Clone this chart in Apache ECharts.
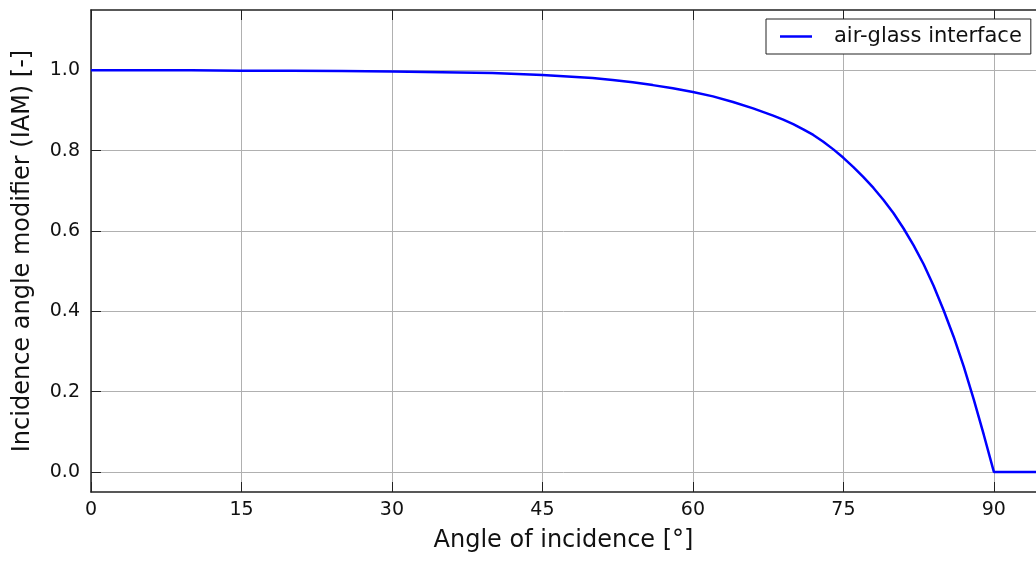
<!DOCTYPE html>
<html>
<head>
<meta charset="utf-8">
<script src="https://cdn.jsdelivr.net/npm/echarts@6/dist/echarts.min.js"></script>
<style>
html,body{margin:0;padding:0;background:#fff;}
#chart{width:1036px;height:561px;}
</style>
</head>
<body>
<div id="chart"></div>
<script>
// Angle of incidence [deg]
const angles = [0, 5, 10, 15, 20, 25, 30, 35, 40, 45, 50, 52, 54, 56, 58, 60, 62, 64, 66, 68, 69, 70, 71, 72, 73, 74, 75, 76, 77, 78, 79, 80, 81, 82, 83, 84, 85, 86, 87, 88, 89, 90, 94.2];
// Incidence angle modifier (IAM)
const iam    = [1.000, 1.000, 1.000, 0.999, 0.999, 0.998, 0.997, 0.995, 0.993, 0.988, 0.981, 0.976, 0.970, 0.963, 0.955, 0.946, 0.935, 0.921, 0.905, 0.887, 0.877, 0.866, 0.853, 0.839, 0.822, 0.803, 0.782, 0.759, 0.734, 0.707, 0.677, 0.644, 0.606, 0.564, 0.517, 0.463, 0.402, 0.336, 0.262, 0.180, 0.092, 0.000, 0.000];
const xTicks = [0, 15, 30, 45, 60, 75, 90];
const yTicks = [0.0, 0.2, 0.4, 0.6, 0.8, 1.0];
const seriesName = 'air-glass interface';

const font = 'DejaVu Sans';
const chart = echarts.init(document.getElementById('chart'), null, {renderer: 'canvas'});
const pts = angles.map((a, i) => [a, iam[i]]);

chart.setOption({
  animation: false,
  backgroundColor: '#ffffff',
  grid: {left: 91, top: 10, right: 0, height: 482, containLabel: false},
  legend: {
    show: true,
    left: 766, top: 19,
    data: [seriesName],
    orient: 'vertical',
    backgroundColor: '#fff',
    borderColor: '#222',
    borderWidth: 1,
    borderRadius: 0,
    padding: [7, 9, 7, 14],
    icon: 'rect',
    itemWidth: 32, itemHeight: 2.5,
    textStyle: {fontFamily: font, fontSize: 21, color: '#111', padding: [0, 0, 0, 17]}
  },
  xAxis: [{
    type: 'value', min: 0, max: 94.2, interval: 15,
    name: 'Angle of incidence [°]', nameLocation: 'middle', nameGap: 37,
    nameTextStyle: {fontFamily: font, fontSize: 24, color: '#111'},
    axisLine: {show: true, onZero: false, lineStyle: {color: '#222', width: 1.5}},
    axisTick: {show: true, inside: true, length: 10, lineStyle: {color: '#222'}, customValues: xTicks},
    axisLabel: {fontFamily: font, fontSize: 19, color: '#111', margin: 9, customValues: xTicks,
      formatter: v => String(v)},
    splitLine: {show: true, lineStyle: {color: '#b0b0b0', width: 1}}
  }, {
    type: 'value', min: 0, max: 94.2, interval: 15, position: 'top',
    axisLine: {show: true, onZero: false, lineStyle: {color: '#222', width: 1.5}},
    axisTick: {show: true, inside: true, length: 10, lineStyle: {color: '#222'}, customValues: xTicks},
    axisLabel: {show: false}, splitLine: {show: false}
  }],
  yAxis: [{
    type: 'value', min: -0.05, max: 1.15,
    name: 'Incidence angle modifier (IAM) [-]', nameLocation: 'middle', nameGap: 56,
    nameTextStyle: {fontFamily: font, fontSize: 24, color: '#111'},
    axisLine: {show: true, onZero: false, lineStyle: {color: '#222', width: 1.5}},
    axisTick: {show: true, inside: true, length: 10, lineStyle: {color: '#222'}, customValues: yTicks},
    axisLabel: {fontFamily: font, fontSize: 19, color: '#111', margin: 11, customValues: yTicks,
      formatter: v => v.toFixed(1)},
    splitLine: {show: true, lineStyle: {color: '#b0b0b0', width: 1}}
  }],
  series: [{
    name: seriesName, type: 'line', data: pts,
    xAxisIndex: 0, yAxisIndex: 0,
    smooth: false, symbol: 'none', showSymbol: false,
    lineStyle: {color: '#0000ff', width: 2.5},
    itemStyle: {color: '#0000ff'}
  }]
});
</script>
</body>
</html>
